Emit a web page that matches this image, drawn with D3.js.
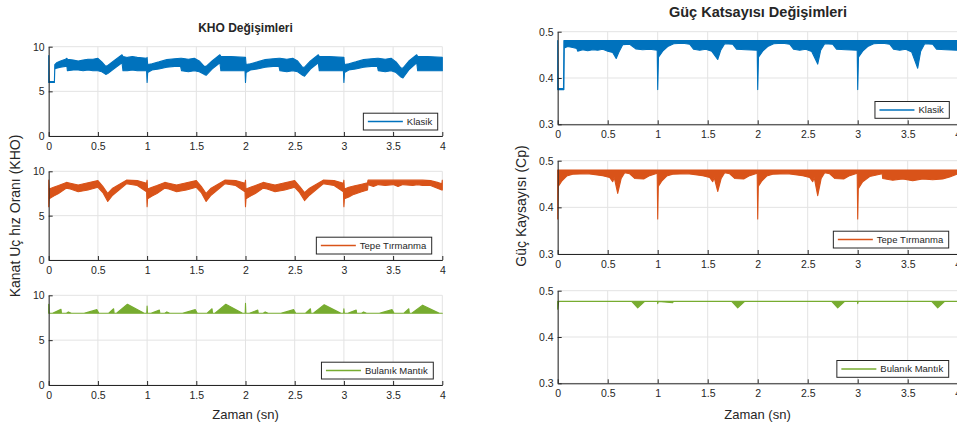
<!DOCTYPE html>
<html>
<head>
<meta charset="utf-8">
<script src="https://cdn.jsdelivr.net/npm/d3@7/dist/d3.min.js"></script>
<style>
  body { margin: 0; background: #fff; }
  svg text { font-family: "Liberation Sans", Arial, sans-serif; fill: #262626; }
</style>
</head>
<body>
<div id="wrapper"></div>
<script>
const xTicks = [0, 0.5, 1, 1.5, 2, 2.5, 3, 3.5, 4]
const khoTicks = [0, 5, 10]
const cpTicks = [0.3, 0.4, 0.5]
const seriesNames = ["Klasik", "Tepe Tırmanma", "Bulanık Mantık"]
const seriesColors = ["#0072BD", "#D95319", "#77AC30"]

// [time, low, high] : envelope of the fast switching signal
const khoKlasik = [
  [0.000, 6.0, 9.0], [0.004, 6.0, 6.1], [0.058, 6.0, 6.1], [0.062, 7.5, 8.0],
  [0.08, 7.6, 8.2], [0.12, 7.7, 8.4], [0.17, 7.8, 8.6], [0.185, 7.8, 8.7],
  [0.19, 7.3, 8.6], [0.25, 7.4, 8.5], [0.30, 7.4, 8.4], [0.35, 7.3, 8.5],
  [0.40, 7.4, 8.6], [0.45, 7.3, 8.6], [0.50, 7.3, 8.7], [0.54, 7.2, 8.3],
  [0.58, 6.9, 7.8], [0.60, 7.0, 7.9], [0.66, 7.5, 8.4], [0.745, 8.2, 9.1],
  [0.755, 7.3, 8.9], [0.80, 7.3, 8.8], [0.85, 7.4, 8.9], [0.90, 7.3, 8.8],
  [0.995, 7.3, 8.7],
  [1.000, 6.0, 8.8], [1.006, 7.1, 8.0], [1.05, 7.4, 8.1], [1.12, 7.5, 8.3],
  [1.20, 7.7, 8.55], [1.28, 7.8, 8.65], [1.34, 7.8, 8.7], [1.35, 7.3, 8.7],
  [1.42, 7.2, 8.6], [1.48, 7.3, 8.7], [1.53, 7.2, 8.4], [1.58, 6.9, 7.8],
  [1.60, 6.8, 7.8], [1.66, 7.5, 8.4], [1.74, 8.2, 9.1], [1.75, 7.3, 8.9],
  [1.85, 7.3, 8.9], [1.995, 7.3, 8.8],
  [2.000, 6.0, 8.8], [2.006, 7.1, 8.0], [2.05, 7.4, 8.1], [2.12, 7.5, 8.3],
  [2.20, 7.7, 8.55], [2.28, 7.8, 8.65], [2.34, 7.8, 8.7], [2.35, 7.3, 8.7],
  [2.42, 7.2, 8.6], [2.48, 7.3, 8.7], [2.53, 7.2, 8.4], [2.58, 6.8, 7.7],
  [2.60, 6.7, 7.7], [2.66, 7.5, 8.4], [2.74, 8.2, 9.1], [2.75, 7.3, 8.9],
  [2.85, 7.3, 8.9], [2.995, 7.3, 8.8],
  [3.000, 6.0, 8.8], [3.006, 7.1, 8.0], [3.05, 7.4, 8.1], [3.12, 7.5, 8.3],
  [3.20, 7.7, 8.55], [3.28, 7.8, 8.65], [3.34, 7.8, 8.7], [3.35, 7.3, 8.7],
  [3.42, 7.2, 8.6], [3.48, 7.3, 8.7], [3.53, 7.1, 8.3], [3.58, 6.6, 7.6],
  [3.60, 6.5, 7.6], [3.66, 7.4, 8.4], [3.74, 8.2, 9.1], [3.75, 7.3, 8.9],
  [3.85, 7.3, 8.9], [4.000, 7.3, 8.8],
]

const khoTepe = [
  [0.000, 6.0, 9.0], [0.005, 6.9, 8.0], [0.05, 7.2, 8.2], [0.10, 7.5, 8.4],
  [0.18, 8.1, 8.75], [0.22, 8.0, 8.65], [0.30, 7.7, 8.45], [0.40, 7.9, 8.7],
  [0.50, 8.2, 8.95], [0.55, 7.6, 8.3], [0.60, 6.6, 7.5], [0.65, 7.3, 8.1],
  [0.79, 8.6, 9.0], [0.90, 8.4, 8.95], [0.995, 7.7, 8.65],
  [1.000, 6.0, 9.0], [1.005, 6.9, 8.0], [1.05, 7.2, 8.2], [1.10, 7.5, 8.4],
  [1.18, 8.1, 8.75], [1.22, 8.0, 8.65], [1.30, 7.7, 8.45], [1.40, 7.9, 8.7],
  [1.50, 8.2, 8.95], [1.55, 7.6, 8.3], [1.60, 6.6, 7.5], [1.65, 7.3, 8.1],
  [1.79, 8.6, 9.0], [1.90, 8.4, 8.95], [1.995, 7.7, 8.65],
  [2.000, 6.0, 9.0], [2.005, 6.9, 8.0], [2.05, 7.2, 8.2], [2.10, 7.5, 8.4],
  [2.18, 8.1, 8.75], [2.22, 8.0, 8.65], [2.30, 7.7, 8.45], [2.40, 7.9, 8.7],
  [2.50, 8.2, 8.95], [2.55, 7.6, 8.3], [2.60, 6.7, 7.6], [2.65, 7.3, 8.1],
  [2.79, 8.6, 9.0], [2.90, 8.4, 8.95], [2.995, 7.7, 8.65],
  [3.000, 6.0, 9.0], [3.005, 6.9, 8.0], [3.05, 7.1, 8.2], [3.10, 7.4, 8.35],
  [3.18, 7.7, 8.55], [3.24, 7.9, 8.7], [3.245, 8.5, 9.0], [3.30, 8.3, 9.0],
  [3.35, 8.5, 9.0], [3.42, 8.4, 9.0], [3.50, 8.5, 9.0], [3.55, 8.3, 9.0],
  [3.60, 8.5, 9.0], [3.70, 8.4, 9.0], [3.75, 8.5, 9.0], [3.80, 8.4, 9.0],
  [3.88, 8.4, 8.95], [3.95, 8.1, 8.75], [3.995, 7.9, 8.6], [4.000, 7.9, 9.0],
]

const khoBulanik = [
  [0.000, 8.0, 9.0], [0.004, 8.0, 8.0], [0.04, 8.0, 8.0], [0.125, 8.0, 8.45],
  [0.13, 8.0, 8.0], [0.18, 8.0, 8.0], [0.20, 8.0, 8.15], [0.23, 8.0, 8.0],
  [0.36, 8.0, 8.0], [0.49, 8.0, 8.4], [0.51, 8.0, 8.0], [0.61, 8.0, 8.0],
  [0.66, 8.0, 8.5], [0.665, 8.0, 8.0], [0.69, 8.0, 8.0], [0.80, 8.0, 9.0],
  [0.97, 8.0, 8.0], [0.997, 8.0, 8.0],
  [1.000, 8.0, 8.8], [1.004, 8.0, 8.0], [1.04, 8.0, 8.0], [1.125, 8.0, 8.35],
  [1.13, 8.0, 8.0], [1.18, 8.0, 8.0], [1.20, 8.0, 8.15], [1.23, 8.0, 8.0],
  [1.36, 8.0, 8.0], [1.49, 8.0, 8.4], [1.51, 8.0, 8.0], [1.61, 8.0, 8.0],
  [1.66, 8.0, 8.5], [1.665, 8.0, 8.0], [1.69, 8.0, 8.0], [1.80, 8.0, 9.0],
  [1.97, 8.0, 8.0], [1.997, 8.0, 8.0],
  [2.000, 8.0, 9.1], [2.004, 8.0, 8.0], [2.04, 8.0, 8.0], [2.125, 8.0, 8.35],
  [2.13, 8.0, 8.0], [2.18, 8.0, 8.0], [2.20, 8.0, 8.15], [2.23, 8.0, 8.0],
  [2.36, 8.0, 8.0], [2.49, 8.0, 8.4], [2.51, 8.0, 8.0], [2.61, 8.0, 8.0],
  [2.66, 8.0, 8.5], [2.665, 8.0, 8.0], [2.69, 8.0, 8.0], [2.80, 8.0, 8.95],
  [2.97, 8.0, 8.0], [2.997, 8.0, 8.0],
  [3.000, 8.0, 8.5], [3.004, 8.0, 8.0], [3.04, 8.0, 8.0], [3.125, 8.0, 8.35],
  [3.13, 8.0, 8.0], [3.18, 8.0, 8.0], [3.20, 8.0, 8.15], [3.23, 8.0, 8.0],
  [3.36, 8.0, 8.0], [3.49, 8.0, 8.4], [3.51, 8.0, 8.0], [3.61, 8.0, 8.0],
  [3.66, 8.0, 8.5], [3.665, 8.0, 8.0], [3.69, 8.0, 8.0], [3.80, 8.0, 8.9],
  [3.97, 8.0, 8.0], [4.000, 8.0, 8.0],
]

const cpKlasik = [
  [0.000, 0.375, 0.481], [0.004, 0.375, 0.377], [0.058, 0.375, 0.377], [0.062, 0.375, 0.481],
  [0.066, 0.465, 0.481], [0.10, 0.468, 0.481], [0.15, 0.466, 0.481], [0.19, 0.464, 0.481],
  [0.20, 0.458, 0.481], [0.25, 0.461, 0.481], [0.30, 0.459, 0.481], [0.35, 0.461, 0.481],
  [0.40, 0.460, 0.481], [0.45, 0.462, 0.481], [0.50, 0.458, 0.481], [0.55, 0.455, 0.481],
  [0.585, 0.442, 0.481], [0.61, 0.455, 0.481], [0.65, 0.472, 0.481], [0.72, 0.473, 0.481],
  [0.78, 0.463, 0.481], [0.85, 0.461, 0.481], [0.92, 0.462, 0.481], [0.995, 0.460, 0.481],
  [1.000, 0.375, 0.481], [1.008, 0.445, 0.481], [1.05, 0.458, 0.481], [1.10, 0.468, 0.481],
  [1.16, 0.474, 0.481], [1.25, 0.475, 0.481], [1.32, 0.473, 0.481], [1.36, 0.462, 0.481],
  [1.42, 0.460, 0.481], [1.48, 0.462, 0.481], [1.54, 0.458, 0.481], [1.60, 0.440, 0.481],
  [1.63, 0.460, 0.481], [1.67, 0.474, 0.481], [1.75, 0.473, 0.481], [1.79, 0.462, 0.481],
  [1.88, 0.461, 0.481], [1.995, 0.460, 0.481],
  [2.000, 0.375, 0.481], [2.008, 0.445, 0.481], [2.05, 0.458, 0.481], [2.10, 0.468, 0.481],
  [2.16, 0.474, 0.481], [2.25, 0.475, 0.481], [2.32, 0.473, 0.481], [2.36, 0.462, 0.481],
  [2.42, 0.460, 0.481], [2.48, 0.462, 0.481], [2.54, 0.457, 0.481], [2.60, 0.430, 0.481],
  [2.63, 0.460, 0.481], [2.67, 0.474, 0.481], [2.75, 0.473, 0.481], [2.79, 0.462, 0.481],
  [2.88, 0.461, 0.481], [2.995, 0.460, 0.481],
  [3.000, 0.375, 0.481], [3.008, 0.445, 0.481], [3.05, 0.458, 0.481], [3.10, 0.468, 0.481],
  [3.16, 0.474, 0.481], [3.25, 0.475, 0.481], [3.32, 0.473, 0.481], [3.36, 0.462, 0.481],
  [3.42, 0.460, 0.481], [3.48, 0.462, 0.481], [3.54, 0.456, 0.481], [3.60, 0.421, 0.481],
  [3.63, 0.458, 0.481], [3.67, 0.474, 0.481], [3.75, 0.473, 0.481], [3.79, 0.462, 0.481],
  [3.88, 0.461, 0.481], [4.000, 0.460, 0.481],
]

const cpTepe = [
  [0.000, 0.375, 0.480], [0.006, 0.445, 0.480], [0.04, 0.456, 0.480], [0.09, 0.467, 0.480],
  [0.15, 0.471, 0.480], [0.30, 0.472, 0.480], [0.45, 0.468, 0.480], [0.52, 0.464, 0.480],
  [0.55, 0.455, 0.480], [0.565, 0.464, 0.480], [0.60, 0.430, 0.480], [0.635, 0.462, 0.480],
  [0.67, 0.474, 0.480], [0.72, 0.472, 0.480], [0.77, 0.462, 0.480], [0.86, 0.461, 0.480],
  [0.92, 0.468, 0.480], [0.995, 0.473, 0.480],
  [1.000, 0.375, 0.480], [1.006, 0.445, 0.480], [1.04, 0.456, 0.480], [1.09, 0.467, 0.480],
  [1.15, 0.471, 0.480], [1.30, 0.472, 0.480], [1.45, 0.468, 0.480], [1.52, 0.464, 0.480],
  [1.55, 0.455, 0.480], [1.565, 0.464, 0.480], [1.60, 0.434, 0.480], [1.635, 0.462, 0.480],
  [1.67, 0.474, 0.480], [1.72, 0.472, 0.480], [1.77, 0.462, 0.480], [1.86, 0.461, 0.480],
  [1.92, 0.468, 0.480], [1.995, 0.473, 0.480],
  [2.000, 0.375, 0.480], [2.006, 0.445, 0.480], [2.04, 0.456, 0.480], [2.09, 0.467, 0.480],
  [2.15, 0.471, 0.480], [2.30, 0.472, 0.480], [2.45, 0.468, 0.480], [2.52, 0.464, 0.480],
  [2.55, 0.455, 0.480], [2.565, 0.464, 0.480], [2.60, 0.425, 0.480], [2.635, 0.462, 0.480],
  [2.67, 0.474, 0.480], [2.72, 0.472, 0.480], [2.77, 0.462, 0.480], [2.86, 0.461, 0.480],
  [2.92, 0.468, 0.480], [2.995, 0.473, 0.480],
  [3.000, 0.375, 0.480], [3.006, 0.440, 0.480], [3.05, 0.455, 0.480], [3.12, 0.466, 0.480],
  [3.20, 0.470, 0.480], [3.245, 0.472, 0.480], [3.25, 0.462, 0.480], [3.35, 0.458, 0.480],
  [3.45, 0.461, 0.480], [3.55, 0.457, 0.480], [3.65, 0.461, 0.480], [3.75, 0.459, 0.480],
  [3.85, 0.461, 0.480], [3.92, 0.465, 0.480], [4.000, 0.472, 0.480],
]

const cpBulanik = [
  [0.000, 0.460, 0.477], [0.01, 0.477, 0.477], [0.74, 0.477, 0.477], [0.80, 0.463, 0.477],
  [0.87, 0.477, 0.477], [0.998, 0.477, 0.477], [1.000, 0.472, 0.477], [1.006, 0.477, 0.477],
  [1.15, 0.474, 0.477], [1.156, 0.477, 0.477], [1.74, 0.477, 0.477], [1.80, 0.463, 0.477],
  [1.87, 0.477, 0.477], [2.74, 0.477, 0.477], [2.80, 0.463, 0.477], [2.87, 0.477, 0.477],
  [2.998, 0.477, 0.477], [3.000, 0.472, 0.477], [3.006, 0.477, 0.477], [3.74, 0.477, 0.477],
  [3.80, 0.463, 0.477], [3.87, 0.477, 0.477], [4.000, 0.477, 0.477],
]

function drawChart() {

  // 1. Canvas
  const dimensions = { width: 957, height: 429 }

  const wrapper = d3.select("#wrapper")
    .append("svg")
    .attr("width", dimensions.width)
    .attr("height", dimensions.height)

  // 2. Panel layout (two figures side by side, three stacked axes each)
  const left = { x0: 48.7, x1: 442.3, rows: [[46.7, 136], [171.3, 260], [295.3, 385]], yDomain: [0, 10], yTicks: khoTicks }
  const right = { x0: 557.7, x1: 957.7, rows: [[31.7, 124.3], [160.7, 254], [290.7, 383.3]], yDomain: [0.3, 0.5], yTicks: cpTicks }

  const panels = [
    { col: left, row: 0, data: khoKlasik, s: 0, legendRight: 437.7 },
    { col: left, row: 1, data: khoTepe, s: 1, legendRight: 431.7 },
    { col: left, row: 2, data: khoBulanik, s: 2, legendRight: 433.3 },
    { col: right, row: 0, data: cpKlasik, s: 0, legendRight: 949.3 },
    { col: right, row: 1, data: cpTepe, s: 1, legendRight: 948.7 },
    { col: right, row: 2, data: cpBulanik, s: 2, legendRight: 948.7 },
  ]

  panels.forEach(p => drawPanel(wrapper, p))

  // 3. Titles and axis labels
  wrapper.append("text")
    .attr("x", 245.5).attr("y", 32.3)
    .attr("text-anchor", "middle")
    .style("font-weight", "bold").style("font-size", "12px")
    .text("KHO Değişimleri")

  wrapper.append("text")
    .attr("x", 758).attr("y", 17.3)
    .attr("text-anchor", "middle")
    .style("font-weight", "bold").style("font-size", "14.5px")
    .text("Güç Katsayısı Değişimleri")

  wrapper.append("text")
    .attr("x", 245.5).attr("y", 419.3)
    .attr("text-anchor", "middle")
    .style("font-size", "13px")
    .text("Zaman (sn)")

  wrapper.append("text")
    .attr("x", 757.5).attr("y", 419)
    .attr("text-anchor", "middle")
    .style("font-size", "13px")
    .text("Zaman (sn)")

  wrapper.append("text")
    .attr("transform", "translate(20, 216) rotate(-90)")
    .attr("text-anchor", "middle")
    .style("font-size", "14px")
    .text("Kanat Uç hız Oranı (KHO)")

  wrapper.append("text")
    .attr("transform", "translate(526, 206) rotate(-90)")
    .attr("text-anchor", "middle")
    .style("font-size", "14px")
    .text("Güç Kaysayısı (Cp)")
}

function drawPanel(svg, p) {
  const [y0, y1] = p.col.rows[p.row]
  const color = seriesColors[p.s]

  const xScale = d3.scaleLinear().domain([0, 4]).range([p.col.x0, p.col.x1])
  const yScale = d3.scaleLinear().domain(p.col.yDomain).range([y1, y0])

  const bounds = svg.append("g")

  // grid
  bounds.append("g").selectAll("line")
    .data(xTicks)
    .join("line")
    .attr("x1", d => xScale(d)).attr("x2", d => xScale(d))
    .attr("y1", y0).attr("y2", y1)
    .attr("stroke", "#e3e3e3")
  bounds.append("g").selectAll("line")
    .data(p.col.yTicks)
    .join("line")
    .attr("x1", p.col.x0).attr("x2", p.col.x1)
    .attr("y1", d => yScale(d)).attr("y2", d => yScale(d))
    .attr("stroke", "#e3e3e3")

  // data band
  const areaGenerator = d3.area()
    .x(d => xScale(d[0]))
    .y0(d => yScale(d[1]))
    .y1(d => yScale(d[2]))

  bounds.append("path")
    .datum(p.data)
    .attr("d", areaGenerator)
    .attr("fill", color)
    .attr("stroke", color)
    .attr("stroke-width", 1.1)
    .attr("stroke-linejoin", "round")

  // axes
  const xAxis = bounds.append("g")
    .attr("transform", `translate(0, ${y1})`)
    .call(d3.axisBottom(xScale)
      .tickValues(xTicks)
      .tickFormat(d => String(d))
      .tickSizeInner(-4)
      .tickSizeOuter(0)
      .tickPadding(6.5))
  const yAxis = bounds.append("g")
    .attr("transform", `translate(${p.col.x0}, 0)`)
    .call(d3.axisLeft(yScale)
      .tickValues(p.col.yTicks)
      .tickFormat(d => String(d))
      .tickSizeInner(-4)
      .tickSizeOuter(0)
      .tickPadding(4))

  ;[xAxis, yAxis].forEach(a => {
    a.attr("font-family", null).attr("font-size", null)
    a.select(".domain").attr("stroke", "#262626")
    a.selectAll(".tick line").attr("stroke", "#262626")
    a.selectAll(".tick text").style("font-size", "10.5px").attr("fill", "#262626")
  })

  // legend
  const legend = bounds.append("g")
  const box = legend.append("rect")
  const label = legend.append("text")
    .style("font-size", "9.5px")
    .text(seriesNames[p.s])
  const textW = label.node().getComputedTextLength()
  const boxH = 16.8
  const boxW = 4.5 + 35 + 4 + textW + 5.5
  const bx = p.legendRight - boxW
  const by = y1 - 6 - boxH
  box.attr("x", bx).attr("y", by)
    .attr("width", boxW).attr("height", boxH)
    .attr("fill", "#fff")
    .attr("stroke", "#262626")
    .attr("stroke-width", 1)
  legend.append("line")
    .attr("x1", bx + 4.5).attr("x2", bx + 39.5)
    .attr("y1", by + boxH / 2).attr("y2", by + boxH / 2)
    .attr("stroke", color).attr("stroke-width", 1.5)
  label.attr("x", bx + 43.5).attr("y", by + boxH / 2 + 3.4)
}

drawChart()
</script>
</body>
</html>
